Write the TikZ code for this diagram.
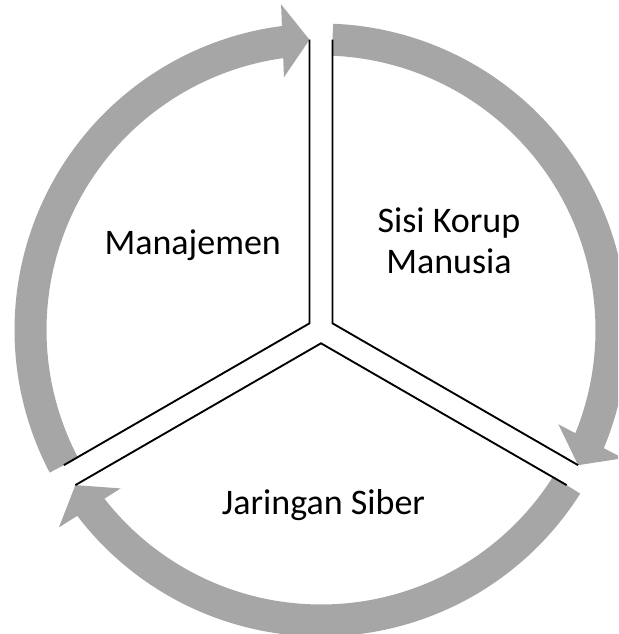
\documentclass[tikz,border=0pt]{standalone}
\usepackage{fontspec}
\setmainfont{Carlito}
\usepackage{tikz}
\usetikzlibrary{positioning}
\definecolor{cyclegray}{RGB}{166, 166, 166}

\begin{document}
\begin{tikzpicture}[x=0.75pt, y=0.75pt,
  sectorline/.style={black, line width=1.4pt},
  lbl/.style={font=\fontsize{27}{31}\selectfont, inner sep=0pt, align=center}]
  \clip (-321,-304) rectangle (297,330);
  % gray cycle arrows, tail at \a, tip at \b
  \foreach \a [evaluate=\a as \b using \a-115.46, evaluate=\a as \h using \a-112] in {87.73,-32.27,-152.27} {
    \fill[cyclegray] (\a:306.5) arc[start angle=\a, end angle=\h, radius=306.5]
      -- (\h:274.5) arc[start angle=\h, end angle=\a, radius=274.5] -- cycle;
    \fill[cyclegray] (\b:290.5) -- ([shift={(\b+90:27)}]\b:327) -- ([shift={(\b+90:27)}]\b:254) -- cycle;
  }
  % three sectors
  \coordinate (pl) at (150:13.3);
  \coordinate (pr) at (30:13.3);
  \coordinate (pb) at (270:13.3);
  \draw[sectorline] (92.27:290.5) -- (pl) -- (207.73:290.5);
  \draw[sectorline] (87.73:290.5) -- (pr) -- (332.27:290.5);
  \draw[sectorline] (212.27:290.5) -- (pb) -- (327.73:290.5);
  \node[lbl, anchor=base] (manajemen) at (-128.3,75) {Manajemen};
  \node[lbl] (korup) at (128,89) {Sisi Korup\\Manusia};
  \node[lbl, anchor=base] (jaringan) at (2.5,-184) {Jaringan Siber};
\end{tikzpicture}
\end{document}
